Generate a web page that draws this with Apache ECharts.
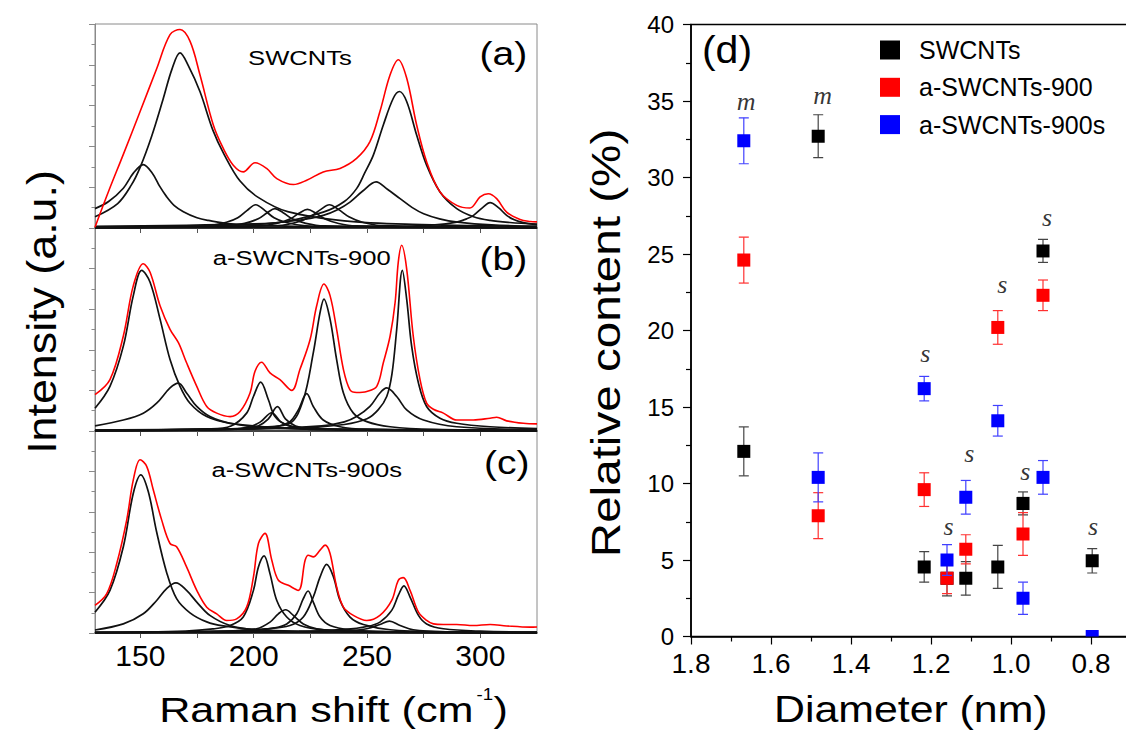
<!DOCTYPE html>
<html>
<head>
<meta charset="utf-8">
<script src="https://cdn.jsdelivr.net/npm/echarts@6/dist/echarts.min.js"></script>
<style>
  html, body { margin: 0; background: #fff; }
  #chart { width: 1126px; height: 731px; }
</style>
</head>
<body>
<div id="chart"></div>
<script>
// ---------- (a)-(c) Raman RBM spectra: measured (red) + fitted peaks (black), [shift, intensity]
const ramanRedA = [[130,0.4],[136,18],[142.5,36.1],[149.9,57.1],[157.2,78.1],[163.1,94.8],[167.5,97.3],[171.9,91.6],[176.3,75.1],[182.2,50.5],[186.6,39],[191,30.8],[195.4,27.5],[200.6,32],[205.7,29.2],[210.2,24.2],[217.5,21.3],[223.4,23.4],[230.7,27.5],[238.1,29.2],[245.4,34.1],[251.3,42.3],[255.7,57.1],[260.2,75.1],[263.8,82.5],[267.5,73.5],[271.9,50.5],[276.3,32.5],[282.2,17.7],[289.6,11.1],[295.4,9.8],[299.9,15.2],[303.5,16.8],[307.2,14.4],[311.6,7.8],[317.5,4.2],[321.9,3.2],[325,3]];
const ramanFitA = [
  [[130,5.5],[140,12],[146,21],[150,30],[155,45],[160,63],[164,78],[167.5,85.8],[171,80],[176.3,66.9],[182,48],[187,36],[194,23],[202,15],[215,8],[240,3.5],[270,1.8],[325,0.8]],
  [[130,9.5],[136,13],[142.5,19.5],[147,27],[151.3,31.1],[155.5,26.5],[158.5,20.5],[161.5,15.5],[165,11],[169,8],[175,5],[180,3.7],[190,2],[210,1],[250,0.4],[325,0.2]],
  [[130,0.2],[180,1.2],[188,2.8],[193,5],[197,8.5],[200.9,11.4],[205,8.5],[209,5],[214,2.8],[222,1.2],[240,0.4],[325,0.1]],
  [[130,0.2],[188,1],[196,2.3],[202,4.5],[206,7.5],[209.4,9.5],[213,7.5],[217,4.5],[223,2.3],[231,1],[325,0.2]],
  [[130,0.2],[202,1],[210,2.2],[216,4.4],[220,7.2],[223.7,9.1],[227.5,7.2],[231.5,4.4],[237.5,2.2],[245,1],[325,0.2]],
  [[130,0.2],[211,1.2],[219,2.8],[225,5.5],[229.5,9],[233.4,11.4],[237.5,9],[242,5.5],[248,2.8],[256,1.2],[325,0.3]],
  [[130,0.8],[200,2],[220,3.8],[230.7,6.2],[237,9],[242.5,12.7],[248,18],[254,22.6],[259,19],[264.6,14.4],[270,10],[275,7],[282,4.5],[290,2.9],[305,1.5],[325,0.8]],
  [[130,0.6],[180,1.2],[210,2.5],[230.7,7.8],[240,13],[245.4,19.3],[249,27],[252.8,35.7],[257.2,50.5],[261.6,63.6],[264.3,66.9],[267.5,62],[271.9,45.6],[276.3,30.8],[282.2,17.7],[289.6,9.5],[297,5.5],[304.3,3.7],[313,2.7],[325,1.9]],
  [[130,0.1],[260,0.6],[280,1.5],[289.6,2.9],[294,4.5],[297,6.2],[301,10],[304.3,12.4],[308,10],[311.6,6.2],[315,4],[319,2.6],[325,1.6]]
];

const ramanRedB = [[130,17.9],[136.6,25.3],[142.5,46.8],[146.9,71.6],[151.3,82.4],[154.3,78.2],[158.7,61.7],[163.1,50.1],[166.8,43.5],[170.4,33.6],[174.9,22],[179.3,12.1],[183.7,8.8],[189.6,7.1],[194,9.6],[198.4,18.7],[200.6,29.4],[203.5,33.9],[207.2,28.6],[211.6,25.3],[216.8,20],[220.4,30.3],[224.9,45.1],[227.8,61.7],[231,72.4],[233.7,66.7],[236.6,50.1],[239.6,30.3],[242.5,20.3],[245.4,19],[249.9,19.5],[254.3,22],[257.2,33.6],[260.2,46.8],[262.4,63.3],[263.8,83.2],[265.3,91.5],[267.5,79.9],[270.4,46.8],[273.4,25.3],[276.3,13.7],[279.3,10.7],[283.7,8.8],[289.6,5.4],[296.9,5.4],[304.3,6.3],[307.2,6.8],[311.6,5],[319,3.8],[325,3.5]];
const ramanFitB = [
  [[130,11.2],[136.6,22],[142.5,41.8],[146.9,66.7],[150.6,79.1],[154.3,73.3],[158.7,55.1],[163.1,35.2],[167.5,22],[171.9,13.7],[179.3,7.1],[189.6,3.8],[216,1.3],[260,0.6],[325,0.3]],
  [[130,2.5],[142.5,5.4],[151.3,8.8],[157.2,13.7],[163.1,21.2],[166.8,23.6],[170.4,18.7],[174.9,12.1],[180.7,7.1],[189.6,3.8],[205,1.6],[240,0.6],[325,0.2]],
  [[130,0.2],[180,1],[190,2.5],[196.9,8.8],[199.9,17],[203.1,24.1],[206.5,15.4],[209.4,7.1],[214.6,3],[225,1.2],[325,0.2]],
  [[130,0.1],[190,0.8],[198,2],[203,4.5],[208,9],[212,4.5],[217,2],[225,0.8],[325,0.1]],
  [[130,0.1],[195,1],[202,2.5],[206.5,6],[210.5,12],[214,6],[218.5,2.5],[226,1],[325,0.1]],
  [[130,0.2],[200,1],[210,2.2],[216,4.6],[219.7,10.4],[223.4,18.4],[226.3,12.1],[230.7,5.4],[238.1,2.1],[250,0.9],[325,0.2]],
  [[130,0.3],[190,1],[205,2],[216,3.8],[221.9,15.4],[226.3,38.5],[229.3,58.4],[231,65],[233.7,55.1],[236.6,35.2],[239.6,18.7],[244,8.8],[249.9,4.6],[260.2,2.1],[280,0.8],[325,0.3]],
  [[130,0.4],[200,1],[230,2.5],[240,4.5],[245.4,7.1],[251.3,12.1],[255.7,18.7],[258.7,21.2],[263.1,17],[267.5,10.4],[274.9,5.4],[289.6,2.1],[325,0.6]],
  [[130,0.5],[220,1.5],[240,3.2],[250,6],[255,10.5],[258.7,17],[261,28],[263.1,50],[265.6,79.1],[267.5,65],[269.7,41.8],[272.7,23.6],[276.3,12.1],[282.2,6.3],[289.6,3.8],[304.3,2.1],[325,1.2]]
];

const ramanRedC = [[130,13.7],[135.2,19.5],[139.6,34.4],[144,56],[146.9,75.8],[149.9,85.8],[152.8,82.5],[155.7,70.9],[159.4,56],[163.1,44.3],[166,42.7],[170.4,32.7],[174.9,21.1],[179.3,12.8],[183.7,9.5],[188.1,6.2],[192.5,7],[196.9,12.8],[199.9,27.8],[202.1,44.3],[205,49.3],[208,36],[210.9,26.1],[215.3,23.6],[219.7,21.1],[222.7,36],[224.1,38.5],[226.3,37.7],[229.3,41],[231.5,43.5],[233.7,39.4],[236.6,22.8],[239.6,12.8],[244,8.7],[249.9,6.2],[255.7,8.7],[260.9,16.1],[263.8,26.1],[266,27.4],[269,21.1],[272.7,10.3],[276.3,6.2],[279.3,4.5],[283.7,4.2],[289.6,4.2],[296.9,3.7],[304.3,4.2],[311.6,3.5],[321.9,2.9],[325,3]];
const ramanFitC = [
  [[130,10.3],[136.6,21.1],[142.5,42.7],[146.9,69.2],[150.2,78.3],[153.5,70],[157.2,50],[161.6,30],[166,17],[171.9,10],[179.3,5.5],[186.6,3.5],[201.3,1.6],[230.7,0.8],[325,0.3]],
  [[130,1.5],[142.5,4.5],[151.3,9.5],[157.2,16.1],[161.6,22],[165.7,24.8],[170.4,21.1],[174.9,15.3],[180.7,8.7],[189.6,3.7],[201.3,1.6],[230,0.5],[325,0.1]],
  [[130,0.3],[170,1],[182,2],[189.6,3.7],[195.4,7.9],[199.9,21.1],[202.1,32.7],[204.6,38.2],[207.2,29.4],[210.2,16.1],[214.6,7.9],[220.4,3.7],[230.7,1.6],[260,0.6],[325,0.2]],
  [[130,0.2],[190,1],[201.3,2.1],[207.2,5.4],[210.9,9.5],[214.1,11.5],[217.5,8.7],[221.9,4.5],[227.8,2.1],[240,0.8],[325,0.1]],
  [[130,0.2],[200,1.2],[209,2.5],[214.6,4.5],[219,9.5],[221.9,17],[224,20.8],[226.3,15.3],[229.3,7.9],[233.7,3.7],[242.5,1.6],[260,0.6],[325,0.2]],
  [[130,0.3],[190,1],[205,2],[216,3.7],[221.9,7.9],[226.3,17.8],[229.3,27.8],[232.2,34],[235.2,27.8],[238.1,16.1],[242.5,7.9],[248.4,4.2],[260.2,1.6],[285,0.6],[325,0.3]],
  [[130,0.1],[230,0.6],[243,1.2],[249.9,2.1],[255.7,4.2],[259.9,5.9],[264.6,3.7],[270.4,1.6],[285,0.6],[325,0.1]],
  [[130,0.2],[220,0.8],[240,1.8],[250,3.2],[255.7,5.4],[260.9,11.2],[263.8,18.6],[266.3,23.3],[269,17.8],[272.7,8.7],[276.3,4.5],[283.7,2.1],[300,0.9],[325,0.4]]
];

const ramanTicks = [150, 175, 200, 225, 250, 275, 300];
const ramanLabels = [150, 200, 250, 300];

// ---------- (d) relative content vs diameter
const diameter   = [1.668, 1.482, 1.217, 1.160, 1.113, 1.033, 0.970, 0.920, 0.797];
const swcnts     = [12.1, 32.7, 4.55, 3.8, 3.8, 4.55, 8.7, 25.2, 4.95];
const swcntsErr  = [1.6, 1.4, 1.0, 1.15, 1.1, 1.4, 0.75, 0.75, 0.8];
const a900       = [24.6, 7.9, 9.6, 3.8, 5.7, 20.2, 6.7, 22.3, null];
const a900Err    = [1.5, 1.5, 1.1, 1.0, 0.95, 1.1, 1.4, 1.0, null];
const a900s      = [32.4, 10.4, 16.2, 5.0, 9.1, 14.1, 2.5, 10.4, 0];
const a900sErr   = [1.5, 1.6, 0.8, 1.0, 1.1, 1.0, 1.05, 1.1, 0];
const diamLabels = [1.8, 1.6, 1.4, 1.2, 1.0, 0.8];
// m = metallic, s = semiconducting
const typeMarks  = [['m',1.662,34.95],['m',1.471,35.35],['s',1.214,18.47],['s',1.156,7.21],['s',1.104,11.94],
                    ['s',1.022,22.98],['s',0.964,10.81],['s',0.910,27.4],['s',0.795,7.19]];

const FONT = "'Liberation Sans', Arial, sans-serif";
const chart = echarts.init(document.getElementById('chart'), null, { renderer: 'svg' });

const panels = [
  { top: 24, height: 204, red: ramanRedA, fits: ramanFitA },
  { top: 228, height: 203, red: ramanRedB, fits: ramanFitB },
  { top: 431, height: 202, red: ramanRedC, fits: ramanFitC }
];

const grids = panels.map(p => ({
  left: 95, width: 442, top: p.top, height: p.height, outerBoundsMode: 'none', containLabel: false,
  show: true, borderColor: '#8a8a8a', borderWidth: 1, backgroundColor: 'transparent'
}));
grids.push({ left: 691, width: 480, top: 24.5, height: 612, outerBoundsMode: 'none', containLabel: false,
             show: true, borderColor: '#000', borderWidth: 1.5 });

const xAxes = panels.map((p, i) => ({
  type: 'value', gridIndex: i, min: 130, max: 325,
  axisLine: { show: true, lineStyle: { color: '#222', width: 1.5 } },
  axisTick: { show: true, customValues: ramanTicks, length: 5, lineStyle: { color: '#555' } },
  axisLabel: { show: i === 2, customValues: ramanLabels, color: '#000', fontSize: 30, fontFamily: FONT, margin: 7 },
  splitLine: { show: false }
}));
xAxes.push({
  type: 'value', gridIndex: 3, min: 0.6, max: 1.8, interval: 0.2, inverse: true,
  axisLine: { show: true, onZero: false, lineStyle: { color: '#000', width: 1.5 } },
  axisTick: { show: true, length: 8, lineStyle: { color: '#000', width: 1.2 } },
  minorTick: { show: true, splitNumber: 2, length: 5, lineStyle: { color: '#000', width: 1.2 } },
  axisLabel: { customValues: diamLabels, color: '#000', fontSize: 28, fontFamily: FONT, margin: 13,
               formatter: v => v.toFixed(1) },
  splitLine: { show: false }
});

const yAxes = panels.map((p, i) => ({
  type: 'value', gridIndex: i, min: 0, max: 100, interval: 20,
  axisLine: { show: true, lineStyle: { color: '#8a8a8a', width: 1 } },
  axisTick: { show: true, length: 6, lineStyle: { color: '#8a8a8a' } },
  minorTick: { show: true, splitNumber: 2, length: 3.5, lineStyle: { color: '#8a8a8a' } },
  axisLabel: { show: false },
  splitLine: { show: false }
}));
yAxes.push({
  type: 'value', gridIndex: 3, min: 0, max: 40, interval: 5,
  axisLine: { show: true, lineStyle: { color: '#000', width: 1.5 } },
  axisTick: { show: true, length: 8, lineStyle: { color: '#000', width: 1.2 } },
  minorTick: { show: true, splitNumber: 2, length: 5, lineStyle: { color: '#000', width: 1.2 } },
  axisLabel: { color: '#000', fontSize: 24, fontFamily: FONT, margin: 17 },
  splitLine: { show: false }
});

const series = [];
panels.forEach((p, i) => {
  p.fits.forEach(f => series.push({
    type: 'line', xAxisIndex: i, yAxisIndex: i, data: f, showSymbol: false, smooth: 0.35,
    lineStyle: { color: '#111', width: 1.7 }, itemStyle: { color: '#111' }, z: 2, silent: true
  }));
  series.push({
    type: 'line', xAxisIndex: i, yAxisIndex: i, data: p.red, showSymbol: false, smooth: 0.35,
    lineStyle: { color: '#ff0000', width: 1.6 }, itemStyle: { color: '#ff0000' }, z: 3, silent: true
  });
});

// squares with error bars, clipped to the plot area
function pointsWithBars(vals, errs) {
  return diameter.map((d, i) => vals[i] == null ? null : [d, vals[i], errs[i]]).filter(Boolean);
}
function renderSquare(fill, barColor) {
  return (params, api) => {
    const x = api.value(0), v = api.value(1), e = api.value(2);
    const c = api.coord([x, v]);
    const kids = [];
    if (e > 0) {
      const yt = api.coord([x, v + e])[1], yb = api.coord([x, v - e])[1];
      const ls = { stroke: barColor, lineWidth: 1.2 };
      kids.push({ type: 'line', shape: { x1: c[0], y1: yt, x2: c[0], y2: yb }, style: ls });
      kids.push({ type: 'line', shape: { x1: c[0] - 5, y1: yt, x2: c[0] + 5, y2: yt }, style: ls });
      kids.push({ type: 'line', shape: { x1: c[0] - 5, y1: yb, x2: c[0] + 5, y2: yb }, style: ls });
    }
    kids.push({ type: 'rect', shape: { x: c[0] - 6.5, y: c[1] - 6.5, width: 13, height: 13 }, style: { fill } });
    return { type: 'group', children: kids };
  };
}
[['SWCNTs', swcnts, swcntsErr, '#000000', '#444'],
 ['a-SWCNTs-900', a900, a900Err, '#ff0000', '#ff3030'],
 ['a-SWCNTs-900s', a900s, a900sErr, '#0000ff', '#4040ff']].forEach(([name, v, e, fill, bar]) => {
  series.push({
    type: 'custom', name, xAxisIndex: 3, yAxisIndex: 3, clip: true, z: 4,
    itemStyle: { color: fill }, encode: { x: 0, y: 1 },
    data: pointsWithBars(v, e), renderItem: renderSquare(fill, bar)
  });
});
series.push({
  type: 'scatter', xAxisIndex: 3, yAxisIndex: 3, symbolSize: 1, z: 5, silent: true,
  itemStyle: { color: 'rgba(0,0,0,0)' },
  data: typeMarks.map(m => ({ name: m[0], value: [m[1], m[2]] })),
  label: { show: true, position: 'inside', formatter: '{b}', color: '#000',
           fontFamily: "'Liberation Serif', 'Times New Roman', serif", fontStyle: 'italic', fontSize: 26 }
});

function txt(text, x, y, size, o = {}) {
  return {
    type: 'text', x, y, rotation: o.rot || 0, scaleX: o.sx || 1, z: 100, silent: true,
    style: { text, x: 0, y: 0, fill: '#000', fontSize: size, fontFamily: o.family || FONT,
             fontWeight: o.weight || 'normal', align: o.align || 'center', verticalAlign: 'middle' }
  };
}

const graphic = [
  txt('SWCNTs', 300, 57.5, 21, { sx: 1.22 }),
  txt('a-SWCNTs-900', 301.7, 258.3, 21, { sx: 1.22 }),
  txt('a-SWCNTs-900s', 306.7, 470, 21, { sx: 1.22 }),
  txt('(a)', 503.3, 53, 34, { sx: 1.15 }),
  txt('(b)', 503.3, 258, 34, { sx: 1.15 }),
  txt('(c)', 506.7, 462, 34, { sx: 1.15 }),
  txt('(d)', 727, 49.5, 38, { sx: 1.08 }),
  txt('Intensity (a.u.)', 42, 312, 40, { rot: Math.PI / 2, sx: 1.12 }),
  txt('Relative content (%)', 606, 343, 40, { rot: Math.PI / 2, sx: 1.19 }),
  txt('Raman shift (cm', 473.5, 709, 36, { sx: 1.2, align: 'right' }),
  txt('-1', 476.5, 694, 17, { sx: 1.1, align: 'left' }),
  txt(')', 493.5, 709, 36, { sx: 1.2, align: 'left' }),
  txt('Diameter (nm)', 910.8, 709, 36, { sx: 1.19 })
];

const option = {
  animation: false,
  backgroundColor: '#fff',
  grid: grids,
  xAxis: xAxes,
  yAxis: yAxes,
  legend: {
    orient: 'vertical', left: 880, top: 37.5, padding: 0, itemGap: 12.3,
    itemWidth: 20, itemHeight: 19, icon: 'rect',
    data: ['SWCNTs', 'a-SWCNTs-900', 'a-SWCNTs-900s'],
    textStyle: { color: '#000', fontSize: 25, fontFamily: FONT, padding: [0, 0, 0, 14] }
  },
  series,
  graphic
};
chart.setOption(option);
</script>
</body>
</html>
